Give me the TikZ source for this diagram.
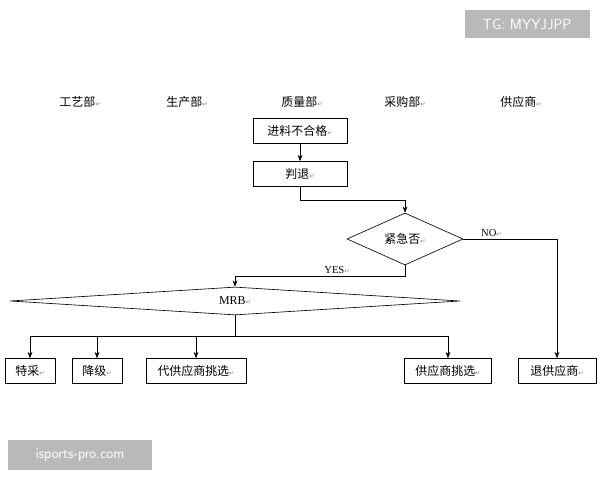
\documentclass[tikz,border=0pt]{standalone}
\usepackage{fontspec}
\usepackage{tikz}
\usetikzlibrary{shapes.geometric,arrows.meta}
\setmainfont{Liberation Serif}
\newfontfamily\cjk{Noto Sans CJK SC}
\newfontfamily\symb{DejaVu Sans}
\newcommand{\ret}{{\symb\color{gray}\fontsize{9}{10}\selectfont ↵}}

\begin{document}
\begin{tikzpicture}[x=0.05cm,y=-0.05cm,font=\cjk\fontsize{17}{20}\selectfont,
  >={Stealth[length=9pt,width=7pt]},line width=0.9pt,
  box/.style={draw,minimum height=1.25cm,inner sep=2pt},
  dept/.style={anchor=center}]
\useasboundingbox (0,0) rectangle (600,480);

% watermarks
\node[fill=gray!55,text=white,minimum width=6.25cm,minimum height=1.4cm,font=\sffamily\fontsize{21}{24}\selectfont] (tg) at (527,24) {TG: MYYJJPP};
\node[fill=gray!55,text=white,minimum width=7.2cm,minimum height=1.5cm,font=\sffamily\fontsize{21}{24}\selectfont] (wm) at (80,455) {isports-pro.com};

% departments
\node[dept] (d1) at (80,102) {工艺部\ret};
\node[dept] (d2) at (187,102) {生产部\ret};
\node[dept] (d3) at (302,102) {质量部\ret};
\node[dept] (d4) at (405,102) {采购部\ret};
\node[dept] (d5) at (521,102) {供应商\ret};

% quality flow
\node[box,minimum width=4.7cm] (in) at (300,131) {进料不合格\ret};
\node[box,minimum width=4.7cm] (rej) at (300,174) {判退\ret};
\node[draw,diamond,aspect=2.2,minimum width=5.8cm,minimum height=2.6cm,inner sep=0pt] (urg) at (405,239) {紧急否\ret};
\node[draw,diamond,aspect=16,minimum width=22.5cm,minimum height=1.4cm,inner sep=0pt,font=\fontsize{17}{20}\selectfont] (mrb) at (235,301) {MRB\ret};

% results
\node[box,minimum width=2.5cm] (r1) at (30,371) {特采\ret};
\node[box,minimum width=2.5cm] (r2) at (97,371) {降级\ret};
\node[box,minimum width=5cm] (r3) at (196,371) {代供应商挑选\ret};
\node[box,minimum width=4.35cm] (r4) at (448,371) {供应商挑选\ret};
\node[box,minimum width=3.9cm] (r5) at (557,371) {退供应商\ret};

\coordinate (split) at (235,336);

% connectors
\draw[->] (in) -- (rej);
\draw[->] (rej.south) |- (405,200) -- (urg.north);
\draw[->] (urg.east) -| (r5.north) node[pos=0.15,above,font=\fontsize{15}{18}\selectfont] {NO\ret};
\draw[->] (urg.south) |- (235,276) node[pos=0.7,above,font=\fontsize{15}{18}\selectfont] {YES\ret} -- (mrb.north);
\draw (mrb.south) -- (split);
\draw (30,336) -- (448,336);
\foreach \r/\x in {r1/30,r2/97,r3/196,r4/448}
  \draw[->] (\x,336) -- (\r.north);
\end{tikzpicture}
\end{document}
